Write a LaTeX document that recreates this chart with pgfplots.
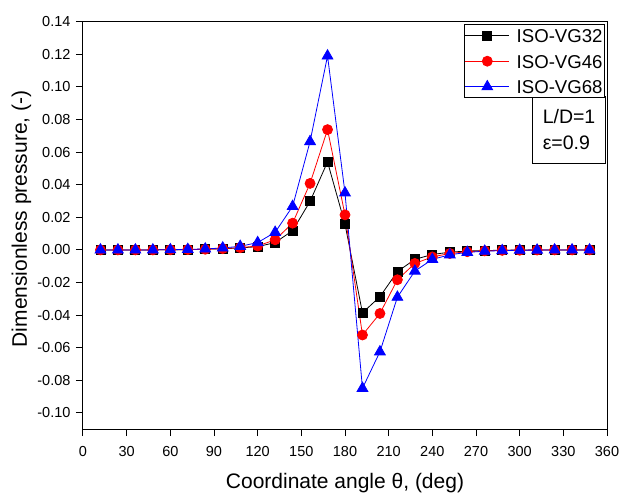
\documentclass[border=0pt]{standalone}
\usepackage{pgfplots}
\pgfplotsset{compat=1.18}
\usepackage{fontspec}
\setmainfont{Liberation Sans}

% Dimensionless pressure along the bearing circumference for three oil grades
\pgfplotstableread{
theta  vg32     vg46     vg68
12     0.0000   0.0000   0.0000
24     0.0000   0.0000   0.0000
36     0.0000   0.0000   0.0000
48     0.0000   0.0000   0.0000
60     0.0001   0.0001   0.0001
72     0.0002   0.0002   0.0003
84     0.0004   0.0004   0.0006
96     0.0007   0.0008   0.0012
108    0.0012   0.0014   0.0022
120    0.0020   0.0024   0.0045
132    0.0045   0.0062   0.0108
144    0.0118   0.0164   0.0267
156    0.0298   0.0408   0.0665
168    0.0540   0.0738   0.1190
180    0.0158   0.0215   0.0350
192   -0.0386  -0.0522  -0.0849
204   -0.0287  -0.0390  -0.0625
216   -0.0133  -0.0183  -0.0290
228   -0.0058  -0.0083  -0.0130
240   -0.0028  -0.0043  -0.0058
252   -0.0014  -0.0022  -0.0030
264   -0.0007  -0.0011  -0.0015
276   -0.0004  -0.0006  -0.0008
288   -0.0002  -0.0003  -0.0004
300   -0.0001  -0.0002  -0.0002
312    0.0000  -0.0001  -0.0001
324    0.0000   0.0000   0.0000
336    0.0000   0.0000   0.0000
348    0.0000   0.0000   0.0000
}\pressure

\begin{document}
\begin{tikzpicture}[x=1pt,y=1pt]
\begin{axis}[
  at={(0,0)}, anchor=south west,
  scale only axis, width=524pt, height=407.5pt,
  xmin=0, xmax=360, ymin=-0.11, ymax=0.14,
  xtick={0,30,60,90,120,150,180,210,240,270,300,330,360},
  ytick={-0.10,-0.08,-0.06,-0.04,-0.02,0,0.02,0.04,0.06,0.08,0.10,0.12,0.14},
  yticklabels={-0.10,-0.08,-0.06,-0.04,-0.02,0.00,0.02,0.04,0.06,0.08,0.10,0.12,0.14},
  xtick pos=lower, ytick pos=left,
  tick align=outside, major tick length=7pt,
  axis line style={line width=1pt},
  every tick/.style={black, line width=1pt},
  minor tick num=0,
  /pgf/number format/assume math mode=true,
  tick label style={font=\fontsize{14.5}{17}\selectfont},
  xticklabel style={yshift=-7pt},
  yticklabel style={xshift=-2pt},
  xlabel={Coordinate angle θ, (deg)},
  ylabel={Dimensionless pressure, (-)},
  label style={font=\fontsize{21}{24}\selectfont},
  xlabel style={at={(axis description cs:0.5,-0.146)}, anchor=base},
  ylabel style={at={(axis description cs:-0.107,0.516)}, anchor=base},
  legend style={at={(axis description cs:0.996,0.994)}, anchor=north east,
    draw=black, line width=0.8pt, inner sep=1pt,
    font=\fontsize{18.6}{20}\selectfont,
    nodes={inner sep=1pt, text height=16.3pt, text depth=2pt},
    row sep=5.2pt, column sep=6pt},
  legend cell align=left,
  legend image code/.code={\draw[#1, mark repeat=2, mark phase=2]
    plot coordinates {(2pt,0pt) (24pt,0pt) (46pt,0pt)};},
]
\addplot[black, line width=0.8pt, mark=square*, mark size=4.5pt,
  mark options={solid, fill=black}] table[x=theta, y=vg32] {\pressure};
\addlegendentry{ISO-VG32}
\addplot[red, line width=0.8pt, mark=*, mark size=5pt,
  mark options={solid, fill=red}] table[x=theta, y=vg46] {\pressure};
\addlegendentry{ISO-VG46}
\addplot[blue, line width=0.8pt, mark=triangle*, mark size=6.2pt,
  mark options={solid, fill=blue}] table[x=theta, y=vg68] {\pressure};
\addlegendentry{ISO-VG68}

\node[draw, line width=0.8pt, fill=white, anchor=north east,
  minimum width=73pt, minimum height=67pt, align=left,
  font=\fontsize{19.5}{26}\selectfont]
  at (axis description cs:0.998,0.818) {L/D=1\\ε=0.9};
\end{axis}
\pgfresetboundingbox
\path (-83,-64) rectangle (538,429.2);
\end{tikzpicture}
\end{document}
